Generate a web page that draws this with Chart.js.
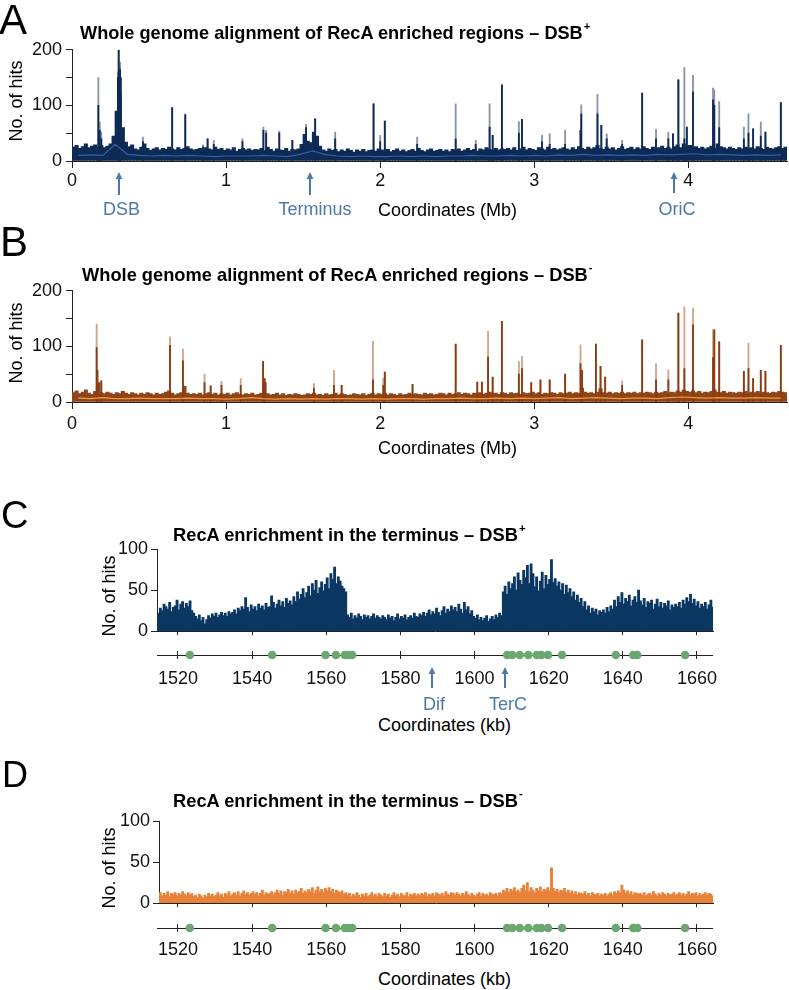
<!DOCTYPE html>
<html>
<head>
<meta charset="utf-8">
<script src="https://cdn.jsdelivr.net/npm/chart.js@4/dist/chart.umd.min.js"></script>
<style>
  html, body { margin: 0; padding: 0; background: #fff; }
  body { width: 789px; height: 990px; position: relative; overflow: hidden;
         font-family: "Liberation Sans", Arial, Helvetica, sans-serif; }
  canvas { position: absolute; }
  .t { position: absolute; white-space: nowrap; line-height: 1; color: #000; }
  .sup { font-size: 0.62em; position: relative; top: -0.8em; margin-left: 1px; }
</style>
</head>
<body>
<script>
// ---------------- DATA ----------------
// Whole-genome panels (A, B): 0.02 Mb bins starting at 0 Mb
const genomeBinStartMb = 0;
const genomeBinMb = 0.02;
const genomeTicksMb = [0, 1, 2, 3, 4];

const baseA = [
  25, 28, 23, 26, 31, 24, 27, 29, 25, 28, 24, 27, 31, 45, 90, 150, 60, 34, 26, 29,
  22, 20, 25, 31, 23, 19, 22, 24, 20, 23, 21, 25, 22, 20, 24, 21, 23, 26, 22, 20,
  21, 23, 19, 24, 22, 20, 25, 21, 23, 19, 22, 20, 24, 18, 21, 23, 20, 22, 19, 21,
  20, 23, 19, 25, 21, 18, 22, 20, 19, 23, 18, 21, 20, 22, 30, 48, 36, 33, 52, 45,
  27, 20, 18, 22, 19, 21, 17, 20, 18, 22, 19, 16, 20, 18, 21, 17, 19, 20, 18, 22,
  20, 18, 21, 17, 19, 22, 18, 20, 17, 19, 21, 18, 23, 19, 17, 20, 22, 18, 19, 21,
  18, 20, 17, 21, 19, 22, 18, 20, 23, 19, 21, 18, 22, 20, 24, 21, 19, 23, 20, 22,
  21, 23, 20, 24, 19, 22, 25, 20, 23, 21, 19, 24, 22, 20, 25, 21, 23, 20, 22, 24,
  22, 20, 24, 21, 26, 23, 21, 25, 22, 24, 28, 23, 21, 25, 22, 24, 20, 23, 26, 21,
  23, 25, 21, 24, 22, 26, 23, 21, 25, 22, 24, 27, 23, 25, 22, 26, 29, 24, 31, 26,
  28, 24, 26, 23, 25, 22, 24, 27, 23, 31, 26, 24, 22, 25, 23, 21, 24, 22, 25, 23,
  24, 22, 26, 23, 21, 25, 23, 22, 24, 26, 23, 25
];
const baseB = [
  17, 20, 15, 18, 22, 16, 14, 19, 35, 17, 15, 18, 16, 14, 17, 15, 19, 16, 14, 17,
  15, 13, 16, 14, 17, 15, 13, 16, 14, 15, 18, 20, 16, 13, 15, 17, 28, 16, 14, 15,
  14, 16, 13, 15, 17, 14, 16, 13, 15, 14, 16, 13, 15, 17, 14, 13, 15, 14, 16, 13,
  14, 16, 35, 15, 13, 14, 16, 13, 15, 12, 14, 13, 15, 14, 12, 13, 15, 14, 16, 13,
  14, 12, 15, 13, 14, 16, 13, 15, 14, 12, 13, 15, 14, 13, 15, 12, 14, 16, 13, 15,
  14, 16, 13, 15, 14, 12, 15, 13, 14, 16, 13, 15, 14, 13, 16, 14, 15, 13, 14, 16,
  15, 13, 16, 14, 15, 17, 14, 16, 15, 13, 16, 15, 17, 14, 16, 18, 15, 16, 14, 17,
  16, 14, 17, 15, 16, 14, 17, 15, 16, 18, 15, 17, 14, 16, 15, 17, 16, 14, 17, 15,
  16, 18, 15, 17, 16, 25, 18, 16, 17, 15, 18, 24, 17, 16, 18, 15, 17, 16, 18, 15,
  17, 16, 18, 15, 17, 16, 18, 17, 15, 18, 16, 17, 19, 16, 18, 17, 20, 18, 22, 19,
  18, 20, 17, 19, 16, 18, 17, 19, 22, 18, 17, 19, 16, 18, 17, 16, 18, 17, 19, 16,
  18, 17, 19, 16, 18, 17, 16, 18, 17, 19, 18, 17
];

// Running-mean trace drawn inside the fill, 0.08 Mb steps starting at 0.04 Mb
const meanStartMb = 0.04;
const meanStepMb = 0.08;
const meanA = [
  10, 11, 10, 30, 12, 10, 9, 10, 9, 10,
  9, 8, 9, 9, 9, 10, 9, 8, 12, 18,
  12, 9, 8, 9, 8, 8, 9, 8, 9, 8,
  9, 9, 10, 9, 9, 10, 9, 10, 9, 11,
  10, 12, 10, 11, 10, 11, 10, 12, 11, 12,
  13, 11, 12, 11, 10, 11, 10, 11
];
const meanB = [
  7, 6, 8, 6, 6, 7, 6, 6, 6, 7,
  6, 6, 5, 6, 8, 6, 5, 6, 5, 6,
  5, 6, 6, 5, 6, 5, 6, 6, 5, 6,
  6, 7, 6, 6, 7, 6, 7, 6, 7, 8,
  6, 7, 8, 7, 6, 7, 7, 6, 8, 9,
  8, 7, 8, 7, 7, 8, 7, 7
];

// Spikes (position Mb, light replicate height, dark replicate height)
const spikePosA = [0.171, 0.18, 0.19, 0.298, 0.303, 0.312, 0.318, 0.46, 0.65, 0.735, 0.85, 0.88, 0.92, 1.106, 1.242, 1.26, 1.345, 1.43, 1.519, 1.578, 1.708, 1.957, 2.0, 2.03, 2.24, 2.49, 2.62, 2.71, 2.73, 2.79, 2.9, 2.92, 3.05, 3.1, 3.2, 3.3, 3.305, 3.41, 3.435, 3.47, 3.57, 3.7, 3.79, 3.87, 3.9, 3.935, 3.974, 3.99, 4.03, 4.16, 4.168, 4.2, 4.36, 4.39, 4.42, 4.47, 4.5, 4.6];
const spikeLightA = [150, 70, 52, 160, 200, 178, 125, 43, 96, 85, 29, 40, 37, 40, 61, 55, 54, 37, 66, 76, 52, 103, 46, 72, 43, 103, 37, 103, 46, 137, 71, 75, 46, 49, 55, 55, 101, 120, 64, 49, 37, 122, 57, 52, 49, 146, 168, 61, 154, 131, 128, 107, 61, 85, 58, 70, 52, 105];
const spikeDarkA = [100, 55, 40, 150, 200, 165, 110, 35, 96, 83, 25, 40, 30, 35, 55, 50, 50, 37, 60, 76, 40, 103, 35, 72, 30, 40, 30, 61, 46, 137, 50, 75, 35, 30, 30, 55, 85, 85, 64, 40, 30, 122, 40, 40, 49, 146, 40, 61, 124, 110, 100, 60, 40, 50, 58, 45, 52, 105];

const spikePosB = [0.16, 0.165, 0.19, 0.636, 0.72, 0.86, 0.9, 0.97, 1.095, 1.24, 1.25, 1.57, 1.7, 1.75, 1.953, 2.02, 2.03, 2.21, 2.49, 2.63, 2.66, 2.7, 2.73, 2.79, 2.9, 2.92, 2.98, 3.04, 3.1, 3.2, 3.3, 3.31, 3.4, 3.43, 3.46, 3.57, 3.7, 3.79, 3.87, 3.935, 3.974, 4.03, 4.16, 4.168, 4.2, 4.36, 4.39, 4.42, 4.47, 4.5, 4.6];
const spikeLightB = [140, 57, 38, 117, 95, 50, 29, 37, 42, 73, 42, 33, 57, 30, 109, 43, 54, 32, 104, 36, 36, 127, 45, 145, 73, 82, 35, 40, 40, 50, 103, 57, 104, 64, 45, 38, 112, 69, 58, 160, 171, 169, 130, 130, 108, 55, 106, 42, 57, 55, 102];
const spikeDarkB = [98, 57, 38, 102, 74, 35, 29, 30, 30, 73, 42, 25, 30, 30, 40, 30, 54, 32, 104, 36, 36, 81, 45, 145, 50, 60, 35, 40, 40, 50, 69, 57, 104, 64, 45, 30, 112, 40, 40, 160, 60, 139, 80, 130, 108, 55, 60, 42, 57, 55, 102];

// Terminus panels (C, D): 0.5 kb bins starting at 1514.5 kb
const termBinStartKb = 1514.5;
const termBinKb = 0.5;
const termTicksKb = [1520, 1540, 1560, 1580, 1600, 1620, 1640, 1660];

const termC = [
  22, 28, 25, 33, 30, 27, 35, 24, 29, 31, 38, 26, 33, 36, 28, 34, 30, 37, 25, 22,
  18, 15, 20, 13, 17, 9, 14, 19, 16, 21, 18, 22, 17, 20, 23, 19, 22, 18, 24, 21,
  23, 26, 21, 28, 25, 30, 27, 41, 29, 24, 32, 27, 30, 25, 33, 28, 31, 26, 34, 29,
  30, 43, 35, 28, 33, 38, 31, 36, 29, 40, 34, 37, 32, 42, 36, 48, 39, 45, 52, 41,
  47, 55, 43, 58, 50, 62, 46, 53, 60, 49, 57, 65, 52, 70, 63, 78, 58, 66, 61, 55,
  52, 48, 20, 17, 22, 15, 19, 16, 21, 18, 14, 20, 17, 19, 15, 18, 21, 16, 19, 17,
  15, 19, 17, 14, 20, 16, 18, 13, 17, 21, 15, 18, 16, 20, 14, 17, 19, 16, 22, 18,
  17, 21, 19, 23, 18, 22, 26, 20, 24, 21, 28, 23, 19, 25, 30, 22, 27, 24, 31, 26,
  29, 24, 33, 27, 22, 35, 26, 30, 21, 25, 18, 16, 20, 14, 17, 13, 16, 19, 12, 15,
  18, 14, 20, 17, 22, 19, 48, 55, 45, 60, 52, 58, 66, 50, 71, 62, 57, 74, 65, 80,
  58, 82, 70, 54, 66, 49, 61, 72, 52, 68, 57, 63, 87, 59, 64, 55, 60, 50, 58, 45,
  56, 47, 52, 42, 48, 38, 44, 35, 40, 30, 36, 26, 31, 22, 28, 24, 27, 20, 25, 23,
  26, 22, 29, 24, 31, 27, 38, 30, 42, 35, 47, 33, 40, 36, 44, 31, 38, 42, 35, 50,
  37, 32, 40, 29, 36, 34, 38, 27, 33, 39, 30, 35, 28, 34, 31, 37, 26, 32, 29, 33,
  30, 35, 28, 38, 33, 41, 36, 45, 34, 39, 31, 36, 28, 33, 30, 35, 27, 32, 38, 29
];
const termD = [
  11, 13, 9, 12, 10, 14, 8, 12, 11, 13, 9, 12, 10, 14, 11, 9, 13, 10, 12, 8,
  10, 7, 11, 9, 6, 10, 8, 12, 9, 11, 8, 10, 13, 9, 11, 7, 12, 10, 14, 9,
  11, 13, 10, 14, 9, 12, 15, 11, 13, 10, 12, 14, 11, 13, 9, 12, 16, 10, 13, 11,
  12, 14, 11, 13, 16, 12, 15, 10, 14, 13, 17, 12, 15, 11, 16, 13, 14, 18, 12, 15,
  13, 17, 14, 19, 12, 16, 20, 14, 17, 13, 18, 15, 19, 14, 17, 12, 16, 14, 13, 15,
  11, 13, 10, 12, 8, 11, 9, 13, 10, 7, 11, 9, 12, 8, 10, 13, 9, 11, 8, 12,
  10, 8, 12, 9, 11, 7, 10, 13, 9, 11, 8, 12, 10, 9, 13, 8, 11, 10, 12, 9,
  11, 9, 12, 10, 13, 8, 11, 10, 12, 9, 13, 11, 10, 12, 9, 14, 11, 10, 13, 12,
  10, 13, 11, 9, 12, 10, 14, 11, 9, 12, 10, 8, 11, 13, 9, 12, 10, 11, 9, 13,
  11, 10, 12, 9, 13, 11, 16, 14, 18, 13, 17, 15, 19, 14, 16, 13, 18, 22, 15, 25,
  14, 19, 16, 13, 18, 15, 20, 14, 17, 16, 19, 15, 43, 18, 14, 17, 13, 16, 15, 18,
  13, 16, 12, 15, 11, 14, 10, 13, 12, 11, 14, 10, 12, 9, 13, 11, 10, 12, 9, 11,
  10, 12, 9, 11, 13, 10, 14, 12, 15, 13, 22, 16, 12, 15, 11, 14, 10, 13, 12, 11,
  12, 10, 13, 9, 11, 12, 10, 14, 11, 9, 12, 10, 13, 11, 9, 12, 10, 11, 13, 10,
  11, 13, 10, 12, 9, 11, 14, 10, 12, 11, 13, 9, 12, 10, 11, 13, 10, 12, 11, 9
];

// Ter sites (kb), shown as green dots under panels C and D
const terSitesKb = [1523.2, 1545.4, 1559.8, 1562.6, 1565.0, 1566.0, 1567.0, 1608.8, 1610.2, 1612.2, 1614.5, 1616.8, 1618.0, 1619.8, 1623.6, 1638.1, 1642.8, 1643.9, 1656.8];

// ---------------- DRAWING ----------------
const FONT = '"Liberation Sans", Arial, Helvetica, sans-serif';
Chart.defaults.font.family = FONT;
Chart.defaults.color = '#111';
Chart.defaults.animation = false;
Chart.defaults.plugins.legend.display = false;
Chart.defaults.plugins.tooltip.enabled = false;
const AXIS = '#222';
const NOTE = '#4a79aa';
const plain = v => String(v);

function canvasAt(left, top, w, h) {
  const c = document.createElement('canvas');
  c.width = w; c.height = h;
  c.style.left = left + 'px'; c.style.top = top + 'px';
  c.style.width = w + 'px'; c.style.height = h + 'px';
  document.body.appendChild(c);
  return c;
}

function yScale(max, step, major, width, pad) {
  return {
    min: 0, max: max,
    border: { display: true, color: AXIS, width: 1 },
    grid: { drawOnChartArea: false, drawTicks: true, tickLength: 6, color: AXIS, lineWidth: 1 },
    ticks: { stepSize: step, padding: pad, font: { size: 18 }, color: '#111',
             callback: v => (v % major === 0 ? String(v) : '') },
    afterFit: s => { s.width = width; }
  };
}
function xScale(min, max, ticks, height, tickLen, pad, showLabels) {
  return {
    type: 'linear', min: min, max: max, offset: false,
    border: { display: true, color: AXIS, width: 1 },
    grid: { offset: false, drawOnChartArea: false, drawTicks: true, tickLength: tickLen, color: AXIS, lineWidth: 1 },
    ticks: { display: showLabels, padding: pad, font: { size: 18 }, color: '#111', autoSkip: false,
             maxRotation: 0, callback: plain },
    afterBuildTicks: s => { s.ticks = ticks.map(v => ({ value: v })); },
    afterFit: s => { s.height = height; }
  };
}

function genomeChart(areaTop, base, mean, sPos, sLight, sDark, col, labelPad) {
  const c = canvasAt(0, areaTop - 14, 789, 14 + 112 + 40);
  new Chart(c, {
    type: 'bar',
    data: { datasets: [
      { type: 'line', data: mean.map((v, i) => ({ x: meanStartMb + i * meanStepMb, y: v })),
        borderColor: col.mean, borderWidth: 1.2, pointRadius: 0, fill: false, order: 1 },
      { data: sPos.map((x, i) => ({ x: x, y: sDark[i] })), backgroundColor: col.dark,
        barThickness: 1.2, grouped: false, order: 2 },
      { data: base.map((v, i) => ({ x: genomeBinStartMb + (i + 0.5) * genomeBinMb, y: v })),
        backgroundColor: col.fill, barThickness: 3.4, grouped: false, order: 3 },
      { data: sPos.map((x, i) => ({ x: x, y: sLight[i] })), backgroundColor: col.light,
        barThickness: 1.2, grouped: false, order: 4 }
    ] },
    options: {
      responsive: false, devicePixelRatio: 1,
      layout: { padding: { top: 14, right: 2, left: 0, bottom: 0 } },
      scales: {
        x: xScale(0, 4.64, genomeTicksMb, 40, 7, labelPad, true),
        y: yScale(200, 50, 100, 72, 4)
      }
    }
  });
}

function terminusChart(areaTop, areaLeft, xMin, vals, fillCol) {
  const c = canvasAt(0, areaTop - 14, 789, 14 + 90 + 6);
  new Chart(c, {
    type: 'bar',
    data: { datasets: [
      { data: vals.map((v, i) => ({ x: termBinStartKb + (i + 0.5) * termBinKb, y: v })),
        backgroundColor: fillCol, barThickness: 2.2, grouped: false }
    ] },
    options: {
      responsive: false, devicePixelRatio: 1,
      layout: { padding: { top: 14, right: 76, left: 0, bottom: 0 } },
      scales: {
        x: xScale(xMin, 1664.32, termTicksKb, 6, 4, 0, false),
        y: yScale(100, 50, 50, areaLeft, 3)
      }
    }
  });
}

function terDots(lineY, labelPad) {
  const c = canvasAt(0, lineY - 4 - 10, 789, 10 + 8 + 30);
  new Chart(c, {
    type: 'scatter',
    data: { datasets: [
      { data: terSitesKb.map(x => ({ x: x, y: 0 })), backgroundColor: '#6aa86f',
        borderWidth: 0, pointRadius: 4.3, clip: false }
    ] },
    options: {
      responsive: false, devicePixelRatio: 1,
      layout: { padding: { top: 10, right: 76, left: 0, bottom: 0 } },
      scales: {
        x: { type: 'linear', min: 1514.34, max: 1664.32,
             border: { display: false },
             grid: { drawOnChartArea: true, drawTicks: false, color: AXIS, lineWidth: 1 },
             ticks: { padding: labelPad, font: { size: 18 }, color: '#111', autoSkip: false,
                      maxRotation: 0, callback: plain },
             afterBuildTicks: s => { s.ticks = termTicksKb.map(v => ({ value: v })); },
             afterFit: s => { s.height = 30; } },
        y: { min: -1, max: 1,
             border: { display: false },
             grid: { drawTicks: false, lineWidth: 1,
                     color: ctx => (ctx.tick && ctx.tick.value === 0) ? AXIS : 'rgba(0,0,0,0)' },
             ticks: { display: false, stepSize: 1 },
             afterFit: s => { s.width = 157; } }
      }
    }
  });
}

genomeChart(49, baseA, meanA, spikePosA, spikeLightA, spikeDarkA,
  { fill: '#0e2a56', dark: '#0e2a56', light: '#8a94a8', mean: '#335f9c' }, 2);
genomeChart(290, baseB, meanB, spikePosB, spikeLightB, spikeDarkB,
  { fill: '#8e4519', dark: '#8a3c12', light: '#cfa68c', mean: '#f39a3c' }, 4);
terminusChart(549, 157, 1514.34, termC, '#0b3763');
terDots(655, 9);
terminusChart(821, 159, 1514.88, termD, '#e8823a');
terDots(928, 7);

// ---------------- TEXT ----------------
function txt(html, x, base, fs, o) {
  o = o || {};
  const d = document.createElement('div');
  d.className = 't';
  d.innerHTML = html;
  d.style.fontSize = fs + 'px';
  if (o.bold) d.style.fontWeight = 'bold';
  if (o.color) d.style.color = o.color;
  d.style.left = x + 'px';
  if (o.center) d.style.transform = 'translateX(-50%)';
  d.style.top = (base - 0.8465 * fs) + 'px';
  document.body.appendChild(d);
  if (o.fitW) {
    const w = d.getBoundingClientRect().width;
    const nfs = fs * o.fitW / w;
    d.style.fontSize = nfs + 'px';
    d.style.top = (base - 0.8465 * nfs) + 'px';
  }
  return d;
}
function vtxt(s, cx, cy, fs) {
  const d = document.createElement('div');
  d.className = 't';
  d.textContent = s;
  d.style.fontSize = fs + 'px';
  d.style.left = cx + 'px';
  d.style.top = cy + 'px';
  d.style.transform = 'translate(-50%,-50%) rotate(-90deg)';
  document.body.appendChild(d);
}
function arrow(x, y1, y2) {
  const h = y2 - y1;
  const d = document.createElement('div');
  d.style.cssText = 'position:absolute;left:' + (x - 6) + 'px;top:' + y1 + 'px;width:12px;height:' + h + 'px';
  d.innerHTML = '<svg width="12" height="' + h + '" xmlns="http://www.w3.org/2000/svg">' +
    '<line x1="6" y1="5" x2="6" y2="' + h + '" stroke="' + NOTE + '" stroke-width="2"/>' +
    '<polygon points="6,0 2.6,7 9.4,7" fill="' + NOTE + '"/></svg>';
  document.body.appendChild(d);
}

// Panel letters
txt('A', -1, 35, 42);
txt('B', 0, 257, 42);
txt('C', 1, 528, 38);
txt('D', 2, 787, 36);

// Titles
txt('Whole genome alignment of RecA enriched regions – DSB<span class="sup">+</span>', 80, 39, 17, { bold: true, fitW: 511 });
txt('Whole genome alignment of RecA enriched regions – DSB<span class="sup">-</span>', 82, 281, 17, { bold: true, fitW: 511 });
txt('RecA enrichment in the terminus – DSB<span class="sup">+</span>', 173, 542, 17, { bold: true, fitW: 353 });
txt('RecA enrichment in the terminus – DSB<span class="sup">-</span>', 173, 807, 17, { bold: true, fitW: 350 });

// Axis titles
vtxt('No. of hits', 16, 101, 18);
vtxt('No. of hits', 16, 343, 18);
vtxt('No. of hits', 109, 596, 18);
vtxt('No. of hits', 109, 868, 18);
txt('Coordinates (Mb)', 378, 216, 18);
txt('Coordinates (Mb)', 378, 454, 18);
txt('Coordinates (kb)', 378, 731, 18);
txt('Coordinates (kb)', 378, 985, 18);

// Annotations
arrow(119, 172, 195); txt('DSB', 121.5, 215, 18, { center: true, color: NOTE });
arrow(310, 172, 195); txt('Terminus', 315, 215, 18, { center: true, color: NOTE });
arrow(674, 172, 193); txt('OriC', 677, 215, 18, { center: true, color: NOTE });
arrow(432, 667, 688); txt('Dif', 434, 710, 18, { center: true, color: NOTE });
arrow(505, 667, 688); txt('TerC', 508, 710, 18, { center: true, color: NOTE });
</script>
</body>
</html>
